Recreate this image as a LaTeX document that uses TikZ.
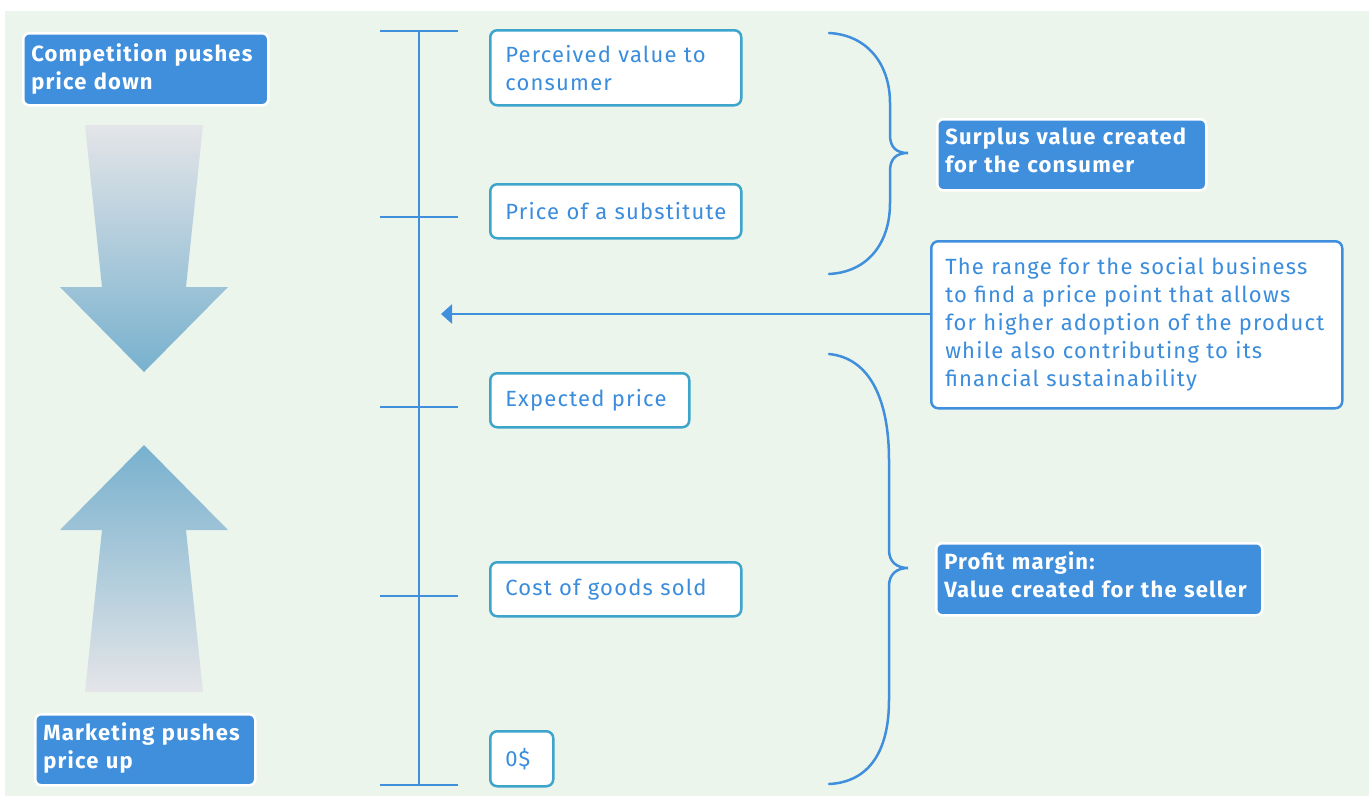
\documentclass[tikz,border=0pt]{standalone}
\usepackage{fontspec}
\setmainfont{Fira Sans}[LetterSpace=5.5]
\usetikzlibrary{arrows.meta}
\definecolor{bg}{HTML}{EBF5EC}
\definecolor{boxblue}{HTML}{3F8FDD}
\definecolor{lineblue}{HTML}{3F8FDD}
\definecolor{tealb}{HTML}{3DA5CC}
\definecolor{txtblue}{HTML}{3A8CDC}
\definecolor{agrey}{HTML}{E4E5E8}
\definecolor{ablue}{HTML}{78B1CE}
\begin{document}
\begin{tikzpicture}[x=1pt,y=-1pt,
  wbox/.style={draw=tealb, fill=white, line width=2.5pt, rounded corners=7pt, anchor=north west,
    align=left, inner xsep=15pt, inner ysep=0pt, text=txtblue, font=\fontsize{22}{28}\selectfont},
  bbox/.style={draw=white, fill=boxblue, line width=2.5pt, rounded corners=6pt, anchor=north west,
    align=left, inner xsep=8pt, inner ysep=0pt, text=white, font=\bfseries\fontsize{22}{28}\selectfont},
  callout/.style={draw=boxblue, fill=white, line width=2.5pt, rounded corners=7pt, anchor=north west,
    align=left, inner xsep=14pt, inner ysep=0pt, text=txtblue, font=\fontsize{22}{28}\selectfont},
  axis/.style={draw=lineblue, line width=2.5pt},
  brace/.style={draw=lineblue, line width=2.5pt, line cap=round},
  conn/.style={draw=lineblue, line width=2.5pt}
]
\useasboundingbox (0,0) rectangle (1369,796);
\fill[bg] (5,11) rectangle (1369,796);

% gradient arrows
\shade[top color=agrey, bottom color=ablue]
  (85,125) -- (203,125) -- (186,287) -- (228,287) -- (144,372) -- (60,287) -- (102,287) -- cycle;
\shade[top color=ablue, bottom color=agrey]
  (144,445) -- (228,530) -- (186,530) -- (203,692) -- (85,692) -- (102,530) -- (60,530) -- cycle;

% axis
\coordinate (axT) at (419,31);
\coordinate (axB) at (419,785);
\draw[axis] (axT) -- (axB);
\foreach \yy/\nm in {31/t0,217/t1,407/t2,596/t3,785/t4}{
  \coordinate (\nm L) at (380,\yy);
  \coordinate (\nm R) at (458,\yy);
  \draw[axis] (\nm L) -- (\nm R);
}

% left blue boxes
\node[bbox, text width=229pt, minimum height=72pt] (comp) at (22,32) {Competition pushes\\price down};
\node[bbox, text width=204pt, minimum height=71pt] (mkt) at (34,713) {Marketing pushes\\price up\par\vspace*{4pt}};

% value boxes
\node[wbox, text width=221pt, minimum height=75pt] (pv) at (489,29) {Perceived value to\\consumer};
\node[wbox, text width=221pt, minimum height=54pt] (ps) at (489,183) {Price of a substitute};
\node[wbox, text width=169pt, minimum height=54pt] (ep) at (489,372) {Expected price};
\node[wbox, text width=221pt, minimum height=54pt] (cg) at (489,561) {Cost of goods sold};
\node[wbox, text width=33pt, minimum height=55pt] (zero) at (489,730) {0\$};

% braces
\draw[brace] (829,33) .. controls (868,35) and (890,65) .. (890,103) -- (890,135)
  .. controls (890,148) and (897,153) .. (908,153)
  .. controls (897,153) and (890,158) .. (890,171) -- (890,203)
  .. controls (890,243) and (868,272) .. (829,274);
\draw[brace] (829,354) .. controls (870,358) and (889,400) .. (889,460) -- (889,550)
  .. controls (889,562) and (897,568) .. (908,568)
  .. controls (897,568) and (889,574) .. (889,586) -- (889,700)
  .. controls (889,750) and (870,782) .. (829,784);

% right boxes
\node[bbox, text width=253pt, minimum height=71pt] (surp) at (936,118) {Surplus value created\\for the consumer\par\vspace*{8pt}};
\node[bbox, text width=310pt, minimum height=72pt] (prof) at (935,542) {Profit margin:\\Value created for the seller\par\vspace*{8pt}};
\node[callout, text width=383pt, minimum height=167pt] (range) at (930,240)
  {The range for the social business\\to find a price point that allows\\for higher adoption of the product\\while also contributing to its\\financial sustainability};

% arrow
\coordinate (arrEnd) at (441,314);
\draw[conn, -{Triangle[length=11pt,width=19pt]}] (arrEnd -| range.west) -- (arrEnd);
\end{tikzpicture}
\end{document}
